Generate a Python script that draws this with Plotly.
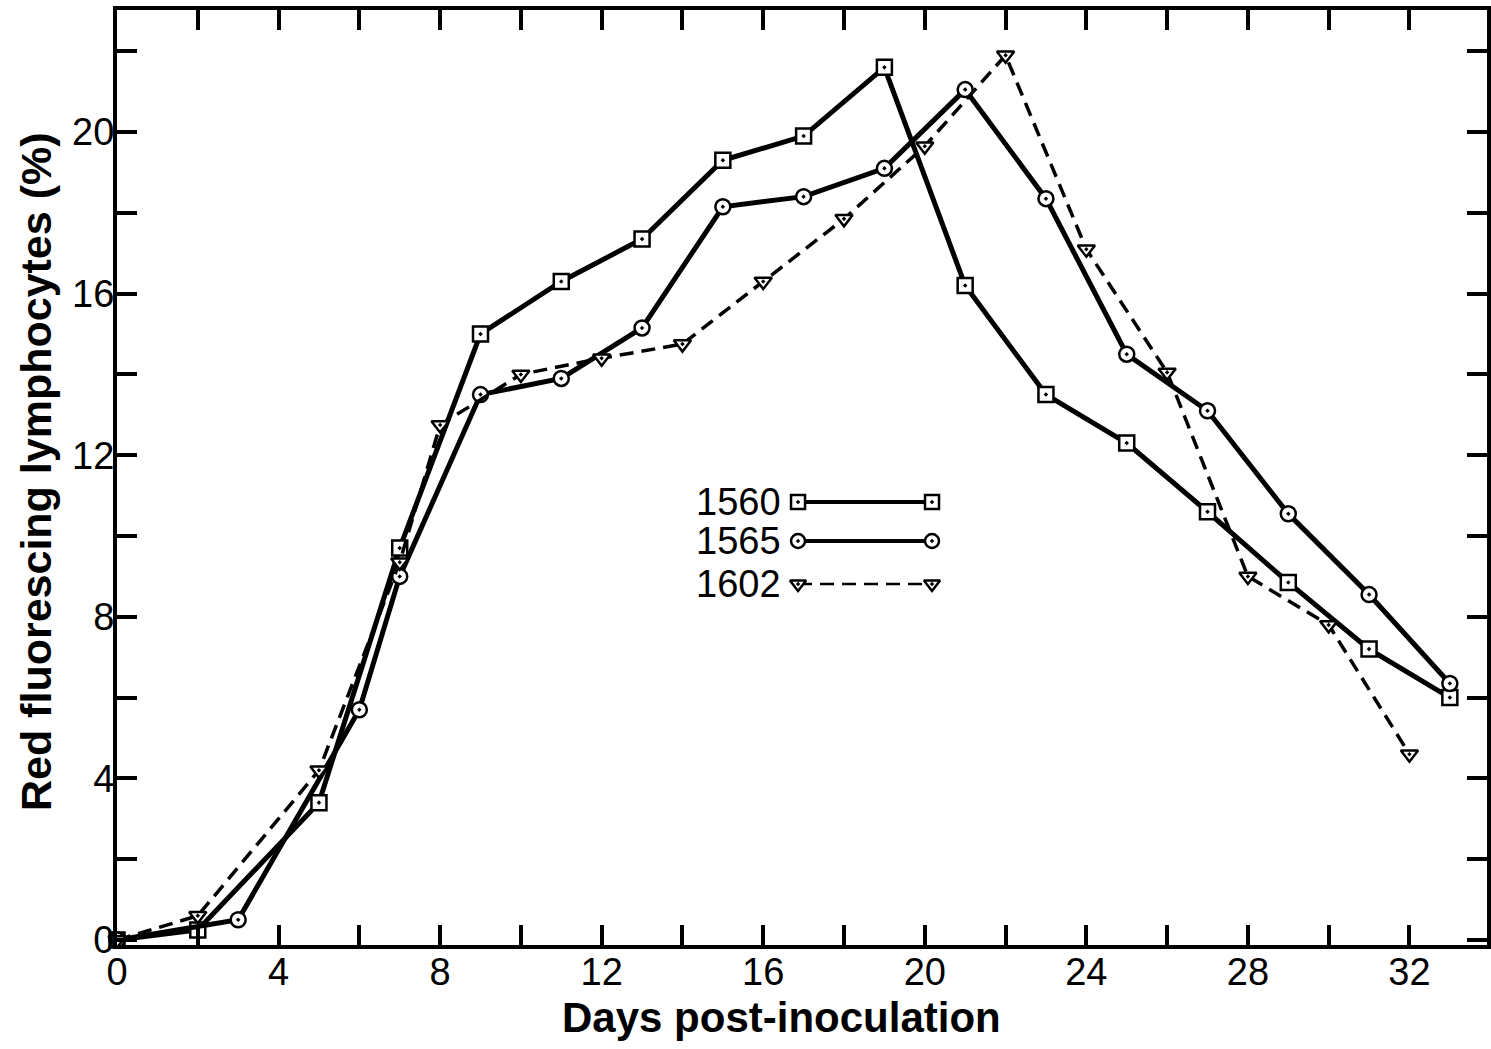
import plotly.graph_objects as go

# ---- data ----
days_1560 = [0, 2, 5, 7, 9, 11, 13, 15, 17, 19, 21, 23, 25, 27, 29, 31, 33]
vals_1560 = [0, 0.25, 3.4, 9.7, 15.0, 16.3, 17.35, 19.3, 19.9, 21.6, 16.2, 13.5, 12.3, 10.6, 8.85, 7.2, 6.0]

days_1565 = [0, 3, 6, 7, 9, 11, 13, 15, 17, 19, 21, 23, 25, 27, 29, 31, 33]
vals_1565 = [0, 0.5, 5.7, 9.0, 13.5, 13.9, 15.15, 18.15, 18.4, 19.1, 21.05, 18.35, 14.5, 13.1, 10.55, 8.55, 6.35]

days_1602 = [0, 2, 5, 7, 8, 10, 12, 14, 16, 18, 20, 22, 24, 26, 28, 30, 32]
vals_1602 = [0, 0.6, 4.2, 9.35, 12.75, 14.0, 14.4, 14.75, 16.3, 17.85, 19.65, 21.9, 17.1, 14.05, 9.0, 7.8, 4.6]

series_names = ["1560", "1565", "1602"]
x_tick_vals = [0, 4, 8, 12, 16, 20, 24, 28, 32]
y_tick_vals = [0, 4, 8, 12, 16, 20]

x_title = "Days post-inoculation"
y_title = "Red fluorescing lymphocytes (%)"

FONT = "Liberation Sans, Arial, sans-serif"

styles = {
    "1560": dict(symbol="square-dot", dash="solid", width=5),
    "1565": dict(symbol="circle-dot", dash="solid", width=5),
    "1602": dict(symbol="triangle-down-dot", dash="14px,8px", width=3.5),
}

fig = go.Figure()
data = {"1560": (days_1560, vals_1560), "1565": (days_1565, vals_1565), "1602": (days_1602, vals_1602)}
for name in series_names:
    xs, ys = data[name]
    st = styles[name]
    fig.add_trace(go.Scatter(
        x=xs, y=ys, mode="lines+markers", name=name, showlegend=False,
        line=dict(color="black", width=st["width"], dash=st["dash"]),
        marker=dict(symbol=st["symbol"], size=15, color="white",
                    line=dict(color="black", width=2.5)),
        cliponaxis=False,
    ))

# legend keys drawn on an overlay axis (0-1 fraction of plot area)
leg_x = [0.4971, 0.5949]
leg_y = {"1560": 0.4738, "1565": 0.4321, "1602": 0.3861}
for name in series_names:
    st = styles[name]
    fig.add_trace(go.Scatter(
        x=leg_x, y=[leg_y[name]] * 2, xaxis="x2", yaxis="y2",
        mode="lines+markers", showlegend=False, hoverinfo="skip",
        line=dict(color="black", width=st["width"] - 1, dash=st["dash"]),
        marker=dict(symbol=st["symbol"], size=14, color="white",
                    line=dict(color="black", width=2.5)),
    ))
    fig.add_annotation(x=0.486, y=leg_y[name], xref="paper", yref="paper",
                       text=name, showarrow=False, xanchor="right", yanchor="middle",
                       font=dict(family=FONT, size=38, color="black"))

# axis titles
fig.add_annotation(x=0.4847, y=-0.078, xref="paper", yref="paper", text=x_title,
                   showarrow=False, xanchor="center", yanchor="middle",
                   font=dict(family=FONT, size=42, color="black", weight="bold"))
fig.add_annotation(x=-0.059, y=0.506, xref="paper", yref="paper", text=y_title,
                   showarrow=False, xanchor="center", yanchor="middle", textangle=-90,
                   font=dict(family=FONT, size=43, color="black", weight="bold"))

axis_common = dict(
    showline=True, linecolor="black", linewidth=4, mirror="ticks",
    ticks="inside", ticklen=20, tickwidth=4, tickcolor="black",
    showgrid=False, zeroline=False, automargin=False,
    tickfont=dict(family=FONT, size=38, color="black"),
)
minor_common = dict(dtick=2, tick0=0, ticks="inside", ticklen=20, tickwidth=4, tickcolor="black")

fig.update_layout(
    width=1491, height=1049,
    margin=dict(l=117, r=4, t=10, b=104),
    paper_bgcolor="white", plot_bgcolor="white",
    showlegend=False,
    xaxis=dict(range=[0, 33.92], tickmode="array", tickvals=x_tick_vals,
               ticklabelstandoff=-10, minor=minor_common, **axis_common),
    yaxis=dict(range=[-0.124, 23.02], tickmode="array", tickvals=y_tick_vals,
               ticklabelstandoff=-9, minor=minor_common, **axis_common),
    xaxis2=dict(range=[0, 1], overlaying="x", visible=False, fixedrange=True),
    yaxis2=dict(range=[0, 1], overlaying="y", visible=False, fixedrange=True),
)

fig.write_html(
    "out.html",
    config={"displayModeBar": False},
    post_script="document.body.style.margin='0';document.body.style.overflow='hidden';",
)
